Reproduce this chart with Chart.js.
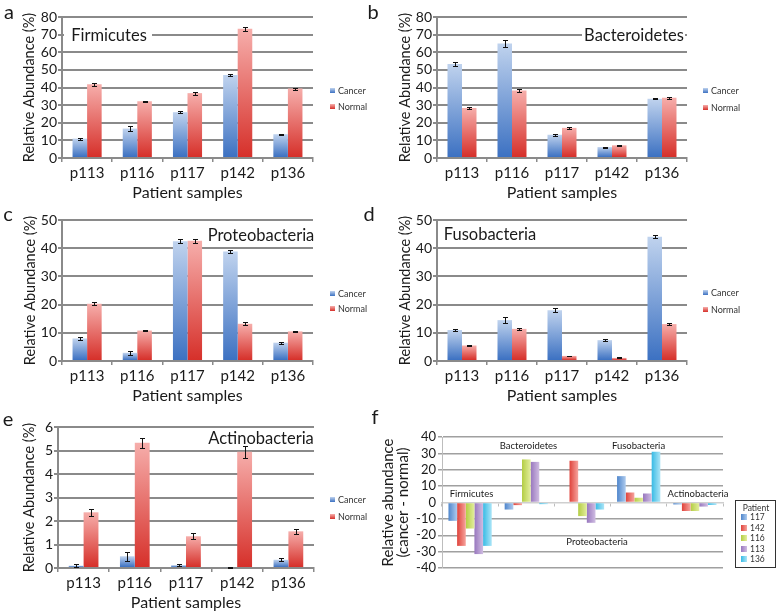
<!DOCTYPE html>
<html><head><meta charset="utf-8">
<script src="https://cdn.jsdelivr.net/npm/chart.js@4.4.0/dist/chart.umd.min.js"></script>
<style>
html,body{margin:0;padding:0;background:#fff;}
body{width:781px;height:614px;position:relative;overflow:hidden;font-family:Lato,sans-serif;color:#1a1a1a;}
canvas{position:absolute;}
.t{position:absolute;white-space:nowrap;line-height:1;transform:translate(-50%,-50%);}
.tl{position:absolute;white-space:nowrap;line-height:1;transform:translate(0,-50%);}
.wb{position:absolute;background:#fff;}
.sq{position:absolute;}
#flegend{position:absolute;left:735px;top:500px;width:39px;height:66px;border:1.5px solid #333;background:#fff;}
</style></head><body>
<script>
// ---------- data ----------
const samples = ['p113','p116','p117','p142','p136'];
const seriesNames = ['Cancer','Normal'];

const firmCancer = [11.0, 16.7, 26.0, 47.1, 13.5];
const firmNormal = [41.8, 32.2, 36.8, 73.3, 39.4];
const firmCancerErr = [0.6, 1.2, 0.7, 0.6, 0.4];
const firmNormalErr = [0.8, 0.4, 0.8, 1.0, 0.6];

const bactCancer = [53.4, 65.0, 13.2, 6.2, 33.6];
const bactNormal = [28.4, 38.3, 17.1, 7.2, 34.2];
const bactCancerErr = [1.0, 2.0, 0.5, 0.3, 0.4];
const bactNormalErr = [0.6, 0.6, 0.5, 0.4, 0.6];

const protCancer = [8.0, 2.9, 42.5, 38.8, 6.5];
const protNormal = [20.3, 10.8, 42.6, 13.2, 10.5];
const protCancerErr = [0.5, 0.6, 0.8, 0.6, 0.3];
const protNormalErr = [0.5, 0.2, 0.7, 0.6, 0.3];

const fusoCancer = [11.0, 14.5, 18.0, 7.4, 44.1];
const fusoNormal = [5.5, 11.4, 1.8, 1.1, 13.1];
const fusoCancerErr = [0.5, 1.2, 0.7, 0.3, 0.5];
const fusoNormalErr = [0.3, 0.4, 0.15, 0.15, 0.2];

const actiCancer = [0.10, 0.50, 0.12, 0.04, 0.35];
const actiNormal = [2.37, 5.33, 1.35, 4.95, 1.56];
const actiCancerErr = [0.07, 0.20, 0.05, 0.02, 0.06];
const actiNormalErr = [0.15, 0.22, 0.12, 0.25, 0.10];

const phyla = ['Firmicutes','Bacteroidetes','Proteobacteria','Fusobacteria','Actinobacteria'];
const patients = ['117','142','116','113','136'];
const diff117 = [-11.2, -4.3, 0.0, 16.1, -1.2];
const diff142 = [-26.5, -1.6, 25.5, 6.1, -5.2];
const diff116 = [-15.9, 26.3, -8.3, 2.9, -5.2];
const diff113 = [-31.5, 24.8, -12.4, 5.5, -2.5];
const diff136 = [-26.5, -1.0, -4.3, 31.0, -1.5];

const yTicksAbund = {a:[0,80,10], b:[0,80,10], c:[0,50,10], d:[0,50,10], e:[0,6,1]};
const yTicksDiff = [-40,40,10];

// ---------- styles ----------
const FONT = 'Lato';
const TXT = '#1a1a1a';
const GRID = '#8a8a8a';
const CANCER_GRAD = ['#c0d3ee','#3c71c2'];
const NORMAL_GRAD = ['#f6aeab','#d6302a'];
const PATIENT_GRAD = [['#4f86cc','#aecbee'],['#df433b','#f6a39d'],['#b3cd43','#e3ee9e'],['#9877be','#d0bde2'],['#38bbe5','#ace5f7']];

const gradPlugin = {
  id:'gradfill',
  afterDatasetsUpdate(chart){
    const ctx = chart.ctx;
    chart.data.datasets.forEach((ds,di)=>{
      if(!ds.grad) return;
      chart.getDatasetMeta(di).data.forEach(el=>{
        let g;
        if(ds.grad.dir==='v'){
          const t=Math.min(el.y,el.base), b=Math.max(el.y,el.base);
          g = ctx.createLinearGradient(0,t,0,b===t?t+1:b);
        } else {
          g = ctx.createLinearGradient(el.x-el.width/2,0,el.x+el.width/2,0);
        }
        g.addColorStop(0,ds.grad.c[0]); g.addColorStop(1,ds.grad.c[1]);
        el.options = Object.assign({}, el.options, {backgroundColor:g});
      });
    });
  }
};

const errPlugin = {
  id:'errbars',
  afterDatasetsDraw(chart){
    const ctx=chart.ctx, ys=chart.scales.y;
    chart.data.datasets.forEach((ds,di)=>{
      if(!ds.errors) return;
      chart.getDatasetMeta(di).data.forEach((el,i)=>{
        const v=ds.data[i], e=ds.errors[i];
        const y1=Math.round(ys.getPixelForValue(v+e))+0.5, y2=Math.round(ys.getPixelForValue(v-e))+0.5;
        const x=Math.round(el.x)+0.5, cap=2.5;
        ctx.save(); ctx.strokeStyle='#111'; ctx.lineWidth=1;
        ctx.beginPath();
        ctx.moveTo(x,y1); ctx.lineTo(x,y2);
        ctx.moveTo(x-cap,y1); ctx.lineTo(x+cap,y1);
        ctx.moveTo(x-cap,y2); ctx.lineTo(x+cap,y2);
        ctx.stroke(); ctx.restore();
      });
    });
  }
};

function makeCanvas(x,y,w,h){
  const cv=document.createElement('canvas');
  cv.width=w; cv.height=h;
  cv.style.left=x+'px'; cv.style.top=y+'px'; cv.style.width=w+'px'; cv.style.height=h+'px';
  document.body.appendChild(cv);
  return cv;
}

function abundancePanel(o){
  const cv = makeCanvas(o.x,o.y,o.w,o.h);
  const [mn,mx,st] = o.ticks;
  return new Chart(cv,{
    type:'bar',
    data:{labels:samples, datasets:[
      {label:seriesNames[0], data:o.cancer, errors:o.errC, grad:{dir:'v',c:CANCER_GRAD}, backgroundColor:CANCER_GRAD[1], categoryPercentage:0.58, barPercentage:1, borderWidth:0},
      {label:seriesNames[1], data:o.normal, errors:o.errN, grad:{dir:'v',c:NORMAL_GRAD}, backgroundColor:NORMAL_GRAD[1], categoryPercentage:0.58, barPercentage:1, borderWidth:0}
    ]},
    options:{
      responsive:false, animation:false, devicePixelRatio:1,
      layout:{padding:{left:0, top:o.at-o.y, right:o.x+o.w-o.ar, bottom:0}},
      plugins:{legend:{display:false}, tooltip:{enabled:false}},
      scales:{
        x:{
          grid:{drawOnChartArea:false, drawTicks:true, tickLength:4, color:GRID, lineWidth:1.5, offset:true},
          border:{display:true, color:GRID, width:2},
          ticks:{font:{family:FONT,size:15}, color:TXT, padding:2, maxRotation:0, autoSkip:false},
          title:{display:true, text:'Patient samples', color:TXT, font:{family:FONT,size:16,lineHeight:1}, padding:{top:0,bottom:3}},
          afterFit:s=>{ s.height = o.y+o.h-o.ab; }
        },
        y:{
          min:mn, max:mx,
          ticks:{stepSize:st, font:{family:FONT,size:14}, color:TXT, padding:1, autoSkip:false},
          grid:{color:GRID, lineWidth:2, tickLength:4},
          border:{display:true, color:GRID, width:2},
          title:{display:true, text:'Relative Abundance (%)', color:TXT, font:{family:FONT,size:14.5,lineHeight:1}, padding:{top:o.ytx-o.x-7,bottom:0}},
          afterFit:s=>{ s.width = o.al-o.x; }
        }
      }
    },
    plugins:[gradPlugin, errPlugin]
  });
}

abundancePanel({x:0,y:0,w:390,h:204, al:62,ar:313,at:17,ab:158, ytx:29, ticks:yTicksAbund.a, cancer:firmCancer, normal:firmNormal, errC:firmCancerErr, errN:firmNormalErr});
abundancePanel({x:375,y:0,w:406,h:204, al:437,ar:687,at:17,ab:158, ytx:405, ticks:yTicksAbund.b, cancer:bactCancer, normal:bactNormal, errC:bactCancerErr, errN:bactNormalErr});
abundancePanel({x:0,y:200,w:390,h:207, al:62,ar:313,at:220,ab:361, ytx:30, ticks:yTicksAbund.c, cancer:protCancer, normal:protNormal, errC:protCancerErr, errN:protNormalErr});
abundancePanel({x:375,y:200,w:406,h:207, al:437,ar:687,at:220,ab:361, ytx:405, ticks:yTicksAbund.d, cancer:fusoCancer, normal:fusoNormal, errC:fusoCancerErr, errN:fusoNormalErr});
abundancePanel({x:0,y:400,w:390,h:214, al:58,ar:314,at:427,ab:568, ytx:29, ticks:yTicksAbund.e, cancer:actiCancer, normal:actiNormal, errC:actiCancerErr, errN:actiNormalErr});

// ---------- panel f ----------
(function(){
  const x=375,y=420,w=360,h=160, al=442, ar=723, at=437, ab=568;
  const cv = makeCanvas(x,y,w,h);
  const diffs=[diff117,diff142,diff116,diff113,diff136];
  new Chart(cv,{
    type:'bar',
    data:{labels:phyla, datasets: patients.map((p,i)=>({
      label:p, data:diffs[i], grad:{dir:'h',c:PATIENT_GRAD[i]}, backgroundColor:PATIENT_GRAD[i][0],
      categoryPercentage:0.77, barPercentage:1, borderWidth:0
    }))},
    options:{
      responsive:false, animation:false, devicePixelRatio:1,
      layout:{padding:{left:0, top:at-y, right:x+w-ar, bottom:y+h-ab}},
      plugins:{legend:{display:false}, tooltip:{enabled:false}},
      scales:{
        x:{
          position:{y:0},
          ticks:{display:false},
          grid:{drawOnChartArea:false, drawTicks:true, tickLength:3, color:'#bdbdbd', lineWidth:1, offset:true},
          border:{display:true, color:'#cfcfcf', width:1.5}
        },
        y:{
          min:yTicksDiff[0], max:yTicksDiff[1],
          ticks:{stepSize:yTicksDiff[2], font:{family:FONT,size:13}, color:TXT, padding:2, autoSkip:false},
          grid:{color:c=>c.tick && c.tick.value===0 ? 'rgba(0,0,0,0)' : '#a0a0a0', lineWidth:1.5, tickLength:4},
          border:{display:true, color:'#bdbdbd', width:1},
          title:{display:true, text:['Relative abundance','(cancer - normal)'], color:TXT, font:{family:FONT,size:15,lineHeight:1}, padding:{top:5.5,bottom:0}},
          afterFit:s=>{ s.width = al-x; }
        }
      }
    },
    plugins:[gradPlugin]
  });
})();

// ---------- overlay text ----------
function txt(s,cx,cy,size,cls,extra){
  const d=document.createElement('div');
  d.className=cls||'t'; d.textContent=s;
  d.style.left=cx+'px'; d.style.top=cy+'px'; d.style.fontSize=size+'px';
  if(extra) Object.assign(d.style,extra);
  document.body.appendChild(d); return d;
}
function wbox(l,t,w,h){
  const d=document.createElement('div'); d.className='wb';
  Object.assign(d.style,{left:l+'px',top:t+'px',width:w+'px',height:h+'px'});
  document.body.appendChild(d);
}
function sq(l,cy,size,grad,dir){
  const d=document.createElement('div'); d.className='sq';
  Object.assign(d.style,{left:l+'px',top:(cy-size/2)+'px',width:size+'px',height:size+'px',
    background:`linear-gradient(${dir||'to bottom'}, ${grad[0]}, ${grad[1]})`});
  document.body.appendChild(d);
}
// panel letters
txt('a',9,11,20); txt('b',373,11,20); txt('c',8,213,20); txt('d',369,213,20); txt('e',8,418,20); txt('f',375,416,20);
// inline phylum names
wbox(64,27,88,16); txt('Firmicutes',109,35,16.5);
wbox(582,27,103,16); txt('Bacteroidetes',634,35,16.5);
txt('Proteobacteria',261,235,16.5);
txt('Fusobacteria',490,234,16.5);
txt('Actinobacteria',261,438,16.5);
// legends
function legend(x,yc,yn){
  sq(x,yc,5,CANCER_GRAD); txt(seriesNames[0],x+8,yc,9,'tl',{color:'#333'});
  sq(x,yn,5,NORMAL_GRAD); txt(seriesNames[1],x+8,yn,9,'tl',{color:'#333'});
}
legend(330,90,106); legend(703,90,107); legend(330,293,308); legend(703,292,309); legend(330,499,516);
// panel f labels
txt(phyla[0],471.5,494,9.5); txt(phyla[1],528.5,446,9.5); txt(phyla[2],597,541.5,9.5); txt(phyla[3],638.5,446,9.5); txt(phyla[4],698,494,9.5);
// panel f legend
(function(){
  const box=document.createElement('div'); box.id='flegend'; document.body.appendChild(box);
  txt('Patient',756,507.5,8.5,'t',{color:'#333'});
  const ys=[517,527.5,538,548.5,559];
  patients.forEach((p,i)=>{ sq(741,ys[i],6,PATIENT_GRAD[i],'to right'); txt(p,750,ys[i],8.5,'tl',{color:'#333'}); });
})();
</script>
</body></html>
